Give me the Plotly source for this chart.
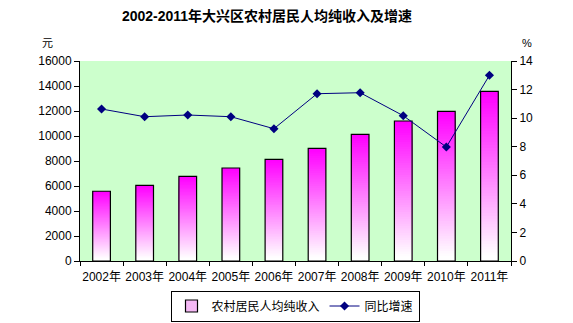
import plotly.graph_objects as go

# Data
years = ["2002年", "2003年", "2004年", "2005年", "2006年",
         "2007年", "2008年", "2009年", "2010年", "2011年"]
income = [5580, 6050, 6770, 7440, 8130, 9010, 10130, 11200, 11970, 13570]
growth = [10.64, 10.10, 10.22, 10.10, 9.26, 11.71, 11.78, 10.17, 7.98, 13.0]

income_ticks = [0, 2000, 4000, 6000, 8000, 10000, 12000, 14000, 16000]
growth_ticks = [0, 2, 4, 6, 8, 10, 12, 14]

FONT = "Arial, 'Liberation Sans', 'Noto Sans CJK SC', sans-serif"
BAR_W = 0.41
N_STEPS = 60

W, H = 573, 323
ML, MR, MT, MB = 80, 62, 61, 62


def grad_color(t):
    """White at the foot of a bar, magenta at its top."""
    s = max(0.0, min(1.0, (t - 0.04) / 0.96))
    g = round(255 * (1 - s))
    return f"rgb(255,{g},255)"


def px_x(x):
    return (x - ML) / (W - ML - MR)


def px_y(y):
    return (H - MB - y) / (H - MT - MB)


fig = go.Figure()

# Gradient bars: successively shorter overlaid bars, each lighter than the last
for k in range(N_STEPS):
    frac = 1 - k / N_STEPS
    fig.add_trace(go.Bar(
        x=years, y=[v * frac for v in income], width=BAR_W,
        marker=dict(color=grad_color(frac), line=dict(width=0)),
        showlegend=False, hoverinfo="skip",
    ))

# Outline for each bar
fig.add_trace(go.Bar(
    x=years, y=income, width=BAR_W, name="农村居民人均纯收入",
    marker=dict(color="rgba(0,0,0,0)", line=dict(color="black", width=1.2)),
    showlegend=False,
))
# Legend entry for the bars
fig.add_trace(go.Bar(
    x=[None], y=[None], name="农村居民人均纯收入",
    marker=dict(color="#F4B8F4", line=dict(color="black", width=1.2)),
))

# Growth line on the secondary axis
fig.add_trace(go.Scatter(
    x=years, y=growth, yaxis="y2", name="同比增速", mode="lines+markers",
    line=dict(color="#000080", width=1),
    marker=dict(symbol="diamond", size=7, color="#000080"),
))

fig.update_layout(
    width=W, height=H,
    margin=dict(l=ML, r=MR, t=MT, b=MB, autoexpand=False),
    paper_bgcolor="white", plot_bgcolor="#CCFFCC",
    barmode="overlay",
    font=dict(family=FONT, size=12, color="black"),
    title=dict(text="<b>2002-2011年大兴区农村居民人均纯收入及增速</b>",
               x=267 / W, xanchor="center", y=1 - 16 / H, yanchor="middle",
               font=dict(size=14, family="Arial, 'Noto Sans CJK SC', sans-serif")),
    xaxis=dict(
        showline=True, linecolor="black", linewidth=1,
        ticks="outside", ticklen=4, tickcolor="black", tickson="boundaries",
        showgrid=False, tickfont=dict(size=12), range=[-0.5, 9.5],
        tickangle=0, automargin=False, ticklabelstandoff=5,
    ),
    yaxis=dict(
        range=[0, 16000], tickvals=income_ticks,
        ticktext=[str(v) for v in income_ticks],
        showgrid=False, zeroline=False, automargin=False,
        showline=True, linecolor="black", linewidth=1,
        ticks="outside", ticklen=5, tickcolor="black", tickfont=dict(size=12),
    ),
    yaxis2=dict(
        range=[0, 14], tickvals=growth_ticks,
        ticktext=[str(v) for v in growth_ticks],
        overlaying="y", side="right", automargin=False,
        showgrid=False, zeroline=False,
        showline=True, linecolor="black", linewidth=1,
        ticks="outside", ticklen=5, tickcolor="black", tickfont=dict(size=12),
    ),
    legend=dict(
        orientation="h", x=px_x(295), xanchor="center",
        y=px_y(306), yanchor="middle",
        bordercolor="black", borderwidth=1, bgcolor="white",
        font=dict(size=12), itemwidth=30, tracegroupgap=0,
    ),
    annotations=[
        dict(text="元", x=px_x(47), y=px_y(43), xref="paper", yref="paper",
             showarrow=False, font=dict(size=11), xanchor="center", yanchor="middle"),
        dict(text="%", x=px_x(527), y=px_y(43), xref="paper", yref="paper",
             showarrow=False, font=dict(size=11), xanchor="center", yanchor="middle"),
    ],
)

fig.write_html("out.html")
